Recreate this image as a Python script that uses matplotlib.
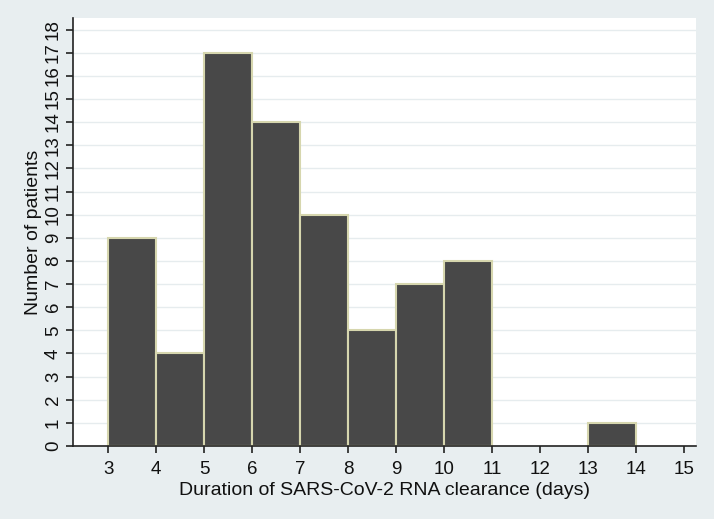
import numpy as np
import matplotlib
matplotlib.use('Agg')
from matplotlib import pyplot as plt

# histogram bins (left edges), width 1 day
bin_left = [3, 4, 5, 6, 7, 8, 9, 10, 11, 12, 13]
counts = [9, 4, 17, 14, 10, 5, 7, 8, 0, 0, 1]
xticks = list(range(3, 16))
yticks = list(range(0, 19))

plt.rcParams['font.family'] = ['Liberation Sans', 'DejaVu Sans']

bg = '#e8eef0'
fig = plt.figure(figsize=(7.14, 5.19), dpi=100, facecolor=bg)
ax = fig.add_axes([73/714, 1 - 446/519, (696-73)/714, (446-18)/519])
ax.set_facecolor('white')

# empty bins have no visible bar
lefts = [b for b, c in zip(bin_left, counts) if c > 0]
heights = [c for c in counts if c > 0]
ax.bar(lefts, heights, width=1, align='edge', color='#484848',
       edgecolor='#d6d6ae', linewidth=1.5, zorder=3)

ax.set_xlim(2.27, 15.25)
ax.set_ylim(0, 18.5)
ax.set_xticks(xticks)
ax.set_yticks(yticks)
ax.set_yticklabels([str(v) for v in yticks], rotation=90, va='center')
ax.grid(axis='y', color='#e6ecee', linewidth=1, zorder=0)

for s in ['top', 'right']:
    ax.spines[s].set_visible(False)
for s in ['left', 'bottom']:
    ax.spines[s].set_color('#222222')
    ax.spines[s].set_linewidth(1.2)
    ax.spines[s].set_zorder(4)
ax.tick_params(axis='both', direction='out', length=5, width=1.2,
               color='#222222', labelsize=13.5, labelcolor='#111111')
ax.tick_params(axis='x', pad=6)
ax.tick_params(axis='y', pad=3)

ax.set_xlabel('Duration of SARS-CoV-2 RNA clearance (days)', fontsize=14,
              color='#111111', labelpad=3)
ax.set_ylabel('Number of patients', fontsize=14, color='#111111')
ax.yaxis.set_label_coords(-0.05, 0.5)

fig.savefig('out.png', dpi=100, facecolor=bg)
